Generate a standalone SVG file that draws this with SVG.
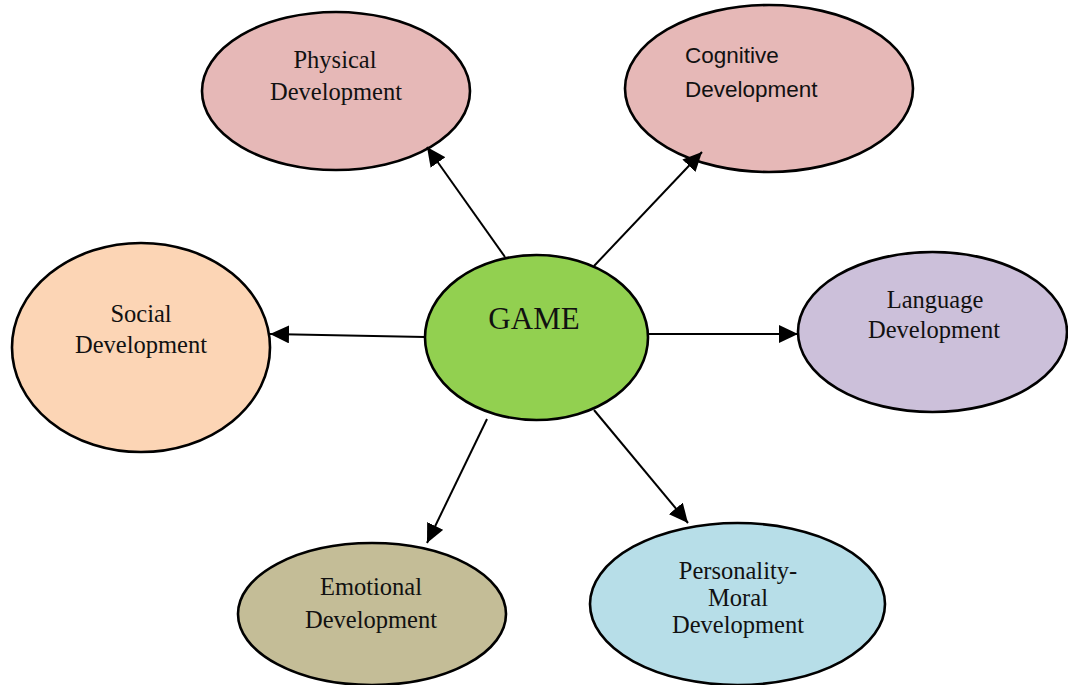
<svg xmlns="http://www.w3.org/2000/svg" width="1068" height="685" viewBox="0 0 1068 685">
  <style>
    .node { stroke: #000; stroke-width: 2.6; }
    .lbl { font-family: "Liberation Serif", "Times New Roman", serif; font-size: 24.5px; fill: #111; text-anchor: middle; }
    .lbl-sans { font-family: "Liberation Sans", Arial, sans-serif; font-size: 22.5px; fill: #111; }
    .title { font-family: "Liberation Serif", "Times New Roman", serif; font-size: 31px; fill: #111; text-anchor: middle; }
    .edge { stroke: #000; stroke-width: 2; fill: none; marker-end: url(#arrow); }
  </style>
  <defs>
    <marker id="arrow" markerUnits="userSpaceOnUse" markerWidth="20" markerHeight="18" refX="19" refY="9" orient="auto">
      <path d="M0,0 L19,9 L0,18 Z" fill="#000"/>
    </marker>
  </defs>
  <rect width="1068" height="685" fill="#fff"/>

  <g id="physical">
    <ellipse class="node" cx="336" cy="91" rx="134" ry="79" fill="#E6B8B7"/>
    <text class="lbl" x="335" y="68">Physical</text>
    <text class="lbl" x="336" y="100">Development</text>
  </g>

  <g id="cognitive">
    <ellipse class="node" cx="769" cy="88.5" rx="144" ry="83.5" fill="#E6B8B7"/>
    <text class="lbl-sans" x="685" y="63">Cognitive</text>
    <text class="lbl-sans" x="685" y="97">Development</text>
  </g>

  <g id="social">
    <ellipse class="node" cx="141" cy="347.5" rx="129" ry="104.5" fill="#FCD5B5"/>
    <text class="lbl" x="141" y="322">Social</text>
    <text class="lbl" x="141" y="353">Development</text>
  </g>

  <g id="game">
    <ellipse class="node" cx="536.5" cy="337.5" rx="111.5" ry="82.5" fill="#92D050"/>
    <text class="title" x="534" y="329">GAME</text>
  </g>

  <g id="language">
    <ellipse class="node" cx="932.5" cy="332" rx="134.5" ry="80" fill="#CCC0DA"/>
    <text class="lbl" x="935" y="308">Language</text>
    <text class="lbl" x="934" y="338">Development</text>
  </g>

  <g id="emotional">
    <ellipse class="node" cx="372" cy="614" rx="134" ry="71" fill="#C4BD97"/>
    <text class="lbl" x="371" y="595">Emotional</text>
    <text class="lbl" x="371" y="628">Development</text>
  </g>

  <g id="personality">
    <ellipse class="node" cx="737.5" cy="604" rx="147.5" ry="81" fill="#B7DEE8"/>
    <text class="lbl" x="738" y="579">Personality-</text>
    <text class="lbl" x="738" y="606">Moral</text>
    <text class="lbl" x="738" y="633">Development</text>
  </g>

  <!-- arrows radiating from the central GAME node -->
  <g id="connectors">
    <line class="edge" x1="505" y1="257" x2="427" y2="147"/>
    <line class="edge" x1="594" y1="266" x2="702" y2="152"/>
    <line class="edge" x1="425" y1="337" x2="270" y2="334"/>
    <line class="edge" x1="648" y1="334" x2="798" y2="334"/>
    <line class="edge" x1="487" y1="419" x2="427" y2="543"/>
    <line class="edge" x1="594" y1="410" x2="688" y2="523"/>
  </g>
</svg>
